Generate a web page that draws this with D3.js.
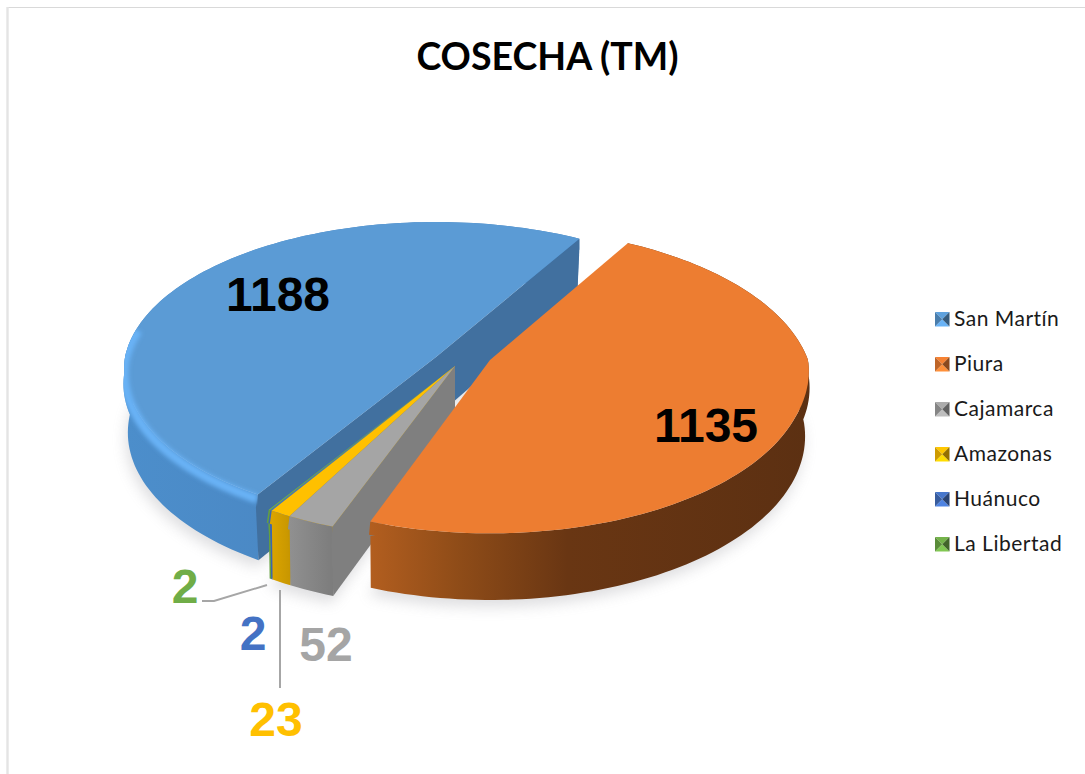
<!DOCTYPE html>
<html><head><meta charset="utf-8">
<script src="https://cdn.jsdelivr.net/npm/d3@7"></script>
<style>html,body{margin:0;padding:0;background:#fff}svg{display:block}</style>
</head><body><div id="c"></div>
<script>
const titleText = "COSECHA (TM)";
const categories = ["San Martín","Piura","Cajamarca","Amazonas","Huánuco","La Libertad"];
const values = [1188,1135,52,23,2,2];
const seriesColors = ["#5b9bd5","#ed7d31","#a5a5a5","#ffc000","#4472c4","#70ad47"];
const wallStops = [
  [["0","#4c8ecb"],["0.5","#4a86c2"],["1","#4a84bd"]],
  [["0","#b25e1f"],["0.2","#8f4c18"],["0.45","#693613"],["1","#5c3012"]],
  [["0","#909090"],["1","#7c7c7c"]],
  [["0","#dba400"],["1","#c79600"]],
  [["0","#3d66b0"],["1","#3d66b0"]],
  [["0","#64a03f"],["1","#64a03f"]]
];
const bevelStops = [
  [["0","#69b2f6"],["1","#69b2f6"]],
  [["0","#f08a42"],["0.3","#c46a26"],["1","#a85a1d"]],
  [["0","#cfcfcf"],["1","#bdbdbd"]],
  [["0","#ffd33a"],["1","#ffcf2a"]],
  [["0","#4472c4"],["1","#4472c4"]],
  [["0","#70ad47"],["1","#70ad47"]]
];
const cutColors = ["#41709f","#a0561f","#7f7f7f","#c79600","#3d66b0","#64a03f"];
const labelColors = ["#000000","#000000","#a5a5a5","#ffc000","#4472c4","#70ad47"];

const W=1085,H=774;
const toRad=Math.PI/180;
const shoulder=12;
const insetScale=d3.scaleLinear().domain([0,shoulder,63]).range([0.99,1,0.985]);
const insetFade=d3.scaleLinear().domain([0,0.35]).range([0,1]).clamp(true);
const firstAngle=212*toRad;
const blueView={ax:436,ay:357,Ax:311,Ay:148.5,pFar:0.1,pNear:0.1,depth:60};
const orangeView={ax:490,ay:360,Ax:318,Ay:156,pFar:0.18,pNear:0.1,depth:60};
const wedgeView={ax:455,ay:366,Ax:325,Ay:155,pFar:0.1,pNear:0.1,depth:63};
const views=[blueView,orangeView,wedgeView,wedgeView,wedgeView,wedgeView];
const labelAt=[[278,311],[706,442],[326,661],[276,736],[253,650],[185,603]];
const legendY=d3.scalePoint().domain(categories).range([319,544]);

const pie=d3.pie().sort(null).startAngle(firstAngle).endAngle(firstAngle+2*Math.PI);
const arcs=pie(values);

function pt(view,theta,r,z){
  const u=r*Math.sin(theta), v=-r*Math.cos(theta), w=1-(v<0?view.pFar:view.pNear)*v;
  const s=z<shoulder ? 1+(insetScale(z)-1)*insetFade(v) : insetScale(z);
  return [view.ax+s*view.Ax*u/w, view.ay+view.Ay*v/w+z/w];
}
function rim(view,a0,a1,r,z){
  const n=Math.max(2,Math.ceil(Math.abs(a1-a0)/(toRad*1.5)));
  return d3.range(n+1).map(i=>pt(view,a0+(a1-a0)*i/n,r,z));
}
const line=d3.line();
const poly=ps=>line(ps)+"Z";

const svg=d3.select("#c").append("svg").attr("width",W).attr("height",H);
const defs=svg.append("defs");
const blurF=(id,s)=>defs.append("filter").attr("id",id).attr("x","-20%").attr("y","-20%").attr("width","140%").attr("height","140%")
  .append("feGaussianBlur").attr("stdDeviation",s);
blurF("shadow",7);blurF("soft",2.2);blurF("softS",1);
function linear(id,stops,x1,x2){
  const g=defs.append("linearGradient").attr("id",id).attr("gradientUnits","userSpaceOnUse")
    .attr("x1",x1).attr("x2",x2).attr("y1",0).attr("y2",0);
  stops.forEach(s=>g.append("stop").attr("offset",s[0]).attr("stop-color",s[1]));
}

// frame
svg.append("rect").attr("width",W).attr("height",H).attr("fill","#fff");
svg.append("line").attr("x1",7).attr("y1",7.5).attr("x2",W).attr("y2",7.5).attr("stroke","#d9d9d9").attr("stroke-width",1.2);
svg.append("line").attr("x1",7.5).attr("y1",7).attr("x2",7.5).attr("y2",H).attr("stroke","#e4e4e4").attr("stroke-width",2.4);

// title
svg.append("text").text(titleText).attr("x",547.5).attr("y",69.5).attr("text-anchor","middle")
  .attr("font-family","Lato,Carlito,sans-serif").attr("font-weight",700).attr("font-size",37.5).attr("fill","#000");

// shadow
const shadow=svg.append("g").attr("filter","url(#shadow)").attr("opacity",0.28).attr("transform","translate(-2,7)");
arcs.forEach((a,i)=>{
  const v=views[i];
  const ps=[pt(v,0,0,v.depth)].concat(rim(v,a.startAngle,a.endAngle,1,v.depth));
  shadow.append("path").attr("d",poly(ps)).attr("fill","#8a8a92");
});

// slices: blue first, then thin slices, then wedge, orange last
const order=[0,5,4,3,2,1];
order.forEach(i=>{
  const a=arcs[i], v=views[i], g=svg.append("g").attr("class","slice-"+i);
  const top=rim(v,a.startAngle,a.endAngle,1,0), mid=rim(v,a.startAngle,a.endAngle,1,shoulder), bot=rim(v,a.startAngle,a.endAngle,1,v.depth);
  const xs=top.concat(bot).map(d=>d[0]);
  linear("wall"+i,wallStops[i],d3.min(xs),d3.max(xs));
  linear("bev"+i,bevelStops[i],d3.min(xs),d3.max(xs));
  const apexT=pt(v,0,0,0), apexB=pt(v,0,0,v.depth);
  // outer wall as one outline: top rim, shoulder and bottom rim
  const wallD=poly(top.concat(bot.slice().reverse()))+poly(top.concat(mid.slice().reverse()));
  const faceD=poly([apexT].concat(top));
  g.append("path").attr("d",wallD).attr("fill",`url(#wall${i})`);
  // cut walls that face the viewer
  [[a.startAngle,1],[a.endAngle,-1]].forEach(([th,sgn])=>{
    const normal=th-sgn*Math.PI/2;
    if(-Math.cos(normal)>0){
      const e0=pt(v,th,1,0), e1=pt(v,th,1,shoulder), e2=pt(v,th,1,v.depth);
      g.append("path").attr("d",poly([apexT,e0,e1,e2,apexB])).attr("fill",cutColors[i]);
    }
  });
  // top face
  g.append("path").attr("d",faceD).attr("fill",seriesColors[i]);
  // bevel along the part of the rim that faces the viewer
  defs.append("clipPath").attr("id","clip"+i).append("path")
    .attr("d",faceD+wallD);
  const f0=Math.max(a.startAngle,90*toRad), f1=Math.min(a.endAngle,282*toRad);
  if(i<4 && f0<f1){
    g.append("g").attr("clip-path",`url(#clip${i})`).append("path")
      .attr("d",line(rim(v,f0,f1,1,4)))
      .attr("fill","none").attr("stroke",`url(#bev${i})`).attr("stroke-width",i===1?7:9)
      .attr("filter","url(#"+(i<2?"soft":"softS")+")");
  }
});

// leaders
const leader=d3.line();
svg.append("path").attr("d",leader([[202,601],[214,601],[267,585]])).attr("fill","none").attr("stroke","#a6a6a6").attr("stroke-width",2);
svg.append("path").attr("d",leader([[280,590],[280,688]])).attr("fill","none").attr("stroke","#a6a6a6").attr("stroke-width",2);

// data labels
svg.append("g").selectAll("text").data(values).join("text")
  .text(d=>d)
  .attr("x",(d,i)=>labelAt[i][0]).attr("y",(d,i)=>labelAt[i][1]).attr("text-anchor","middle")
  .attr("font-family","'Liberation Sans',Arial,sans-serif").attr("font-weight",700).attr("font-size",48)
  .attr("fill",(d,i)=>labelColors[i]);

// legend
const legend=svg.append("g");
categories.forEach((c,i)=>{
  const y=legendY(c), x0=935,s=14.5, x1=x0+s, y0=y-7, y1=y0+s, mx=x0+s/2, my=y0+s/2;
  const base=d3.color(seriesColors[i]);
  const tri=(pts,col)=>legend.append("path").attr("d",poly(pts)).attr("fill",col);
  tri([[x0,y0],[x1,y0],[mx,my]],base.brighter(0.1));
  tri([[x0,y1],[x1,y1],[mx,my]],base.brighter(0.4));
  tri([[x0,y0],[x0,y1],[mx,my]],base.darker(0.6));
  tri([[x1,y0],[x1,y1],[mx,my]],base.darker(1.5));
  legend.append("text").text(c).attr("x",954).attr("y",y+7)
    .attr("font-family","Lato,Carlito,sans-serif").attr("font-size",21).attr("letter-spacing",0.5).attr("fill","#1a1a1a");
});
</script></body></html>
